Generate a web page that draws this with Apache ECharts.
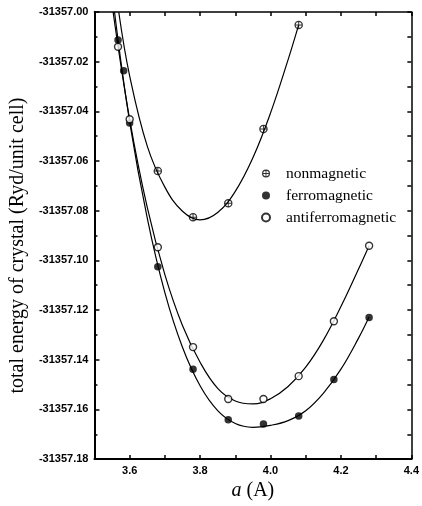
<!DOCTYPE html>
<html>
<head>
<meta charset="utf-8">
<script src="https://cdn.jsdelivr.net/npm/echarts@6/dist/echarts.min.js"></script>
<style>
html,body{margin:0;padding:0;background:#fff;}
#chart{width:422px;height:506px;}
</style>
</head>
<body>
<div id="chart"></div>
<script>
// ---- data ----
const xTickLabels = ['3.6', '3.8', '4.0', '4.2', '4.4'];

const aNon   = [3.68, 3.78, 3.88, 3.98, 4.08];
const eNon   = [-31357.0640, -31357.0826, -31357.0770, -31357.0471, -31357.0052];

const aFerro = [3.567, 3.583, 3.60, 3.68, 3.78, 3.88, 3.98, 4.08, 4.18, 4.28];
const eFerro = [-31357.0113, -31357.0237, -31357.0447, -31357.1026, -31357.1438, -31357.1642, -31357.1659, -31357.1626, -31357.1480, -31357.1230];

const aAnti  = [3.567, 3.60, 3.68, 3.78, 3.88, 3.98, 4.08, 4.18, 4.28];
const eAnti  = [-31357.0140, -31357.0432, -31357.0947, -31357.1349, -31357.1558, -31357.1558, -31357.1466, -31357.1245, -31357.0941];

// fitted curves
const aNonFit   = [3.569, 3.60, 3.65, 3.70, 3.75, 3.80, 3.85, 3.90, 3.95, 4.00, 4.05, 4.08];
const eNonFit   = [-31357.0000, -31357.0257, -31357.0540, -31357.0705, -31357.0802, -31357.0837, -31357.0807, -31357.0722, -31357.0587, -31357.0407, -31357.0192, -31357.0052];

const aFerroFit = [3.557, 3.60, 3.65, 3.70, 3.75, 3.80, 3.85, 3.90, 3.95, 4.00, 4.05, 4.10, 4.15, 4.20, 4.25, 4.28];
const eFerroFit = [-31357.0000, -31357.0442, -31357.0830, -31357.1130, -31357.1350, -31357.1505, -31357.1605, -31357.1657, -31357.1672, -31357.1664, -31357.1645, -31357.1605, -31357.1535, -31357.1438, -31357.1313, -31357.1228];

const aAntiFit  = [3.553, 3.60, 3.65, 3.70, 3.75, 3.80, 3.85, 3.90, 3.95, 4.00, 4.05, 4.10, 4.15, 4.20, 4.25, 4.28];
const eAntiFit  = [-31357.0000, -31357.0432, -31357.0787, -31357.1057, -31357.1262, -31357.1410, -31357.1515, -31357.1566, -31357.1578, -31357.1557, -31357.1508, -31357.1430, -31357.1322, -31357.1186, -31357.1035, -31357.0941];

const names = ['nonmagnetic', 'ferromagnetic', 'antiferromagnetic'];

// ---- build ----
const zip = (a, b) => a.map((v, i) => [v, b[i]]);
const crossCircle = 'path://M10 0 A10 10 0 1 1 10 20 A10 10 0 1 1 10 0 Z M10 3 A7 7 0 1 0 10 17 A7 7 0 1 0 10 3 Z M3 8.9 L17 8.9 L17 11.1 L3 11.1 Z M8.9 3 L11.1 3 L11.1 17 L8.9 17 Z';

const chart = echarts.init(document.getElementById('chart'), null, {renderer: 'canvas'});
const sans = 'Liberation Sans, Arial, sans-serif';
const serif = 'Liberation Serif, Times New Roman, serif';

const fitLine = (name, data) => ({
  name: name, type: 'line', data: data, smooth: 0.4, showSymbol: false, symbol: 'none',
  lineStyle: {color: '#000', width: 1.2}, silent: true, z: 2, clip: true
});

chart.setOption({
  animation: false,
  backgroundColor: '#fff',
  grid: {left: 90.7, right: 5.3, top: 12, bottom: 43, containLabel: false},
  legend: {
    orient: 'vertical', left: 256, top: 160,
    itemWidth: 30, itemHeight: 8, itemGap: 5, symbolKeepAspect: true,
    textStyle: {fontFamily: serif, fontSize: 15.5, color: '#000', lineHeight: 17, padding: 0},
    data: [
      {name: names[0], icon: crossCircle},
      {name: names[1], icon: 'circle'},
      {name: names[2], icon: 'circle'}
    ]
  },
  xAxis: [{
    type: 'value', position: 'bottom', min: 3.5, max: 4.4, interval: 0.1,
    name: '{i|a} (A)', nameLocation: 'middle', nameGap: 14,
    nameTextStyle: {fontFamily: serif, fontSize: 20, color: '#000',
      rich: {i: {fontFamily: serif, fontSize: 20, fontStyle: 'italic', color: '#000'}}},
    axisLine: {onZero: false, lineStyle: {color: '#000', width: 2}},
    axisTick: {inside: true, length: 4, lineStyle: {color: '#000', width: 1.5}},
    axisLabel: {margin: 6, fontFamily: sans, fontWeight: 'bold', fontSize: 11, color: '#000',
      formatter: v => { const s = (Math.round(v * 10) / 10).toFixed(1); return xTickLabels.includes(s) ? s : ''; }},
    splitLine: {show: false}
  }, {
    type: 'value', position: 'top', min: 3.5, max: 4.4, interval: 0.1,
    axisLine: {onZero: false, lineStyle: {color: '#000', width: 1.5}},
    axisTick: {inside: true, length: 4, lineStyle: {color: '#000', width: 1.5}},
    axisLabel: {show: false}, splitLine: {show: false}
  }],
  yAxis: [{
    type: 'value', position: 'left', min: -31357.18, max: -31357.00, interval: 0.02,
    name: 'total energy of crystal (Ryd/unit cell)', nameLocation: 'middle', nameGap: 61,
    nameTextStyle: {fontFamily: serif, fontSize: 20, color: '#000', padding: [0, 20, 0, 0]},
    axisLine: {onZero: false, lineStyle: {color: '#000', width: 2}},
    axisTick: {inside: true, length: 5, lineStyle: {color: '#000', width: 1.5}},
    minorTick: {show: true, splitNumber: 2, length: 3, lineStyle: {color: '#000', width: 1.5}},
    axisLabel: {margin: 6, fontFamily: sans, fontWeight: 'bold', fontSize: 11, color: '#000',
      formatter: v => v.toFixed(2)},
    splitLine: {show: false}, minorSplitLine: {show: false}
  }, {
    type: 'value', position: 'right', min: -31357.18, max: -31357.00, interval: 0.02,
    axisLine: {onZero: false, lineStyle: {color: '#000', width: 1.5}},
    axisTick: {inside: true, length: 4, lineStyle: {color: '#000', width: 1.5}},
    minorTick: {show: true, splitNumber: 2, length: 4, lineStyle: {color: '#000', width: 1.5}},
    axisLabel: {show: false}, splitLine: {show: false}, minorSplitLine: {show: false}
  }],
  series: [
    fitLine('fit-non', zip(aNonFit, eNonFit)),
    fitLine('fit-ferro', zip(aFerroFit, eFerroFit)),
    fitLine('fit-anti', zip(aAntiFit, eAntiFit)),
    {name: names[0], type: 'scatter', data: zip(aNon, eNon), symbol: crossCircle, symbolSize: 8.5,
      itemStyle: {color: '#000'}, z: 5},
    {name: names[1], type: 'scatter', data: zip(aFerro, eFerro), symbol: 'circle', symbolSize: 7.5,
      itemStyle: {color: '#000'}, z: 5},
    {name: names[2], type: 'scatter', data: zip(aAnti, eAnti), symbol: 'circle', symbolSize: 7,
      itemStyle: {color: '#fff', borderColor: '#000', borderWidth: 1.4}, z: 6}
  ]
});
</script>
</body>
</html>
